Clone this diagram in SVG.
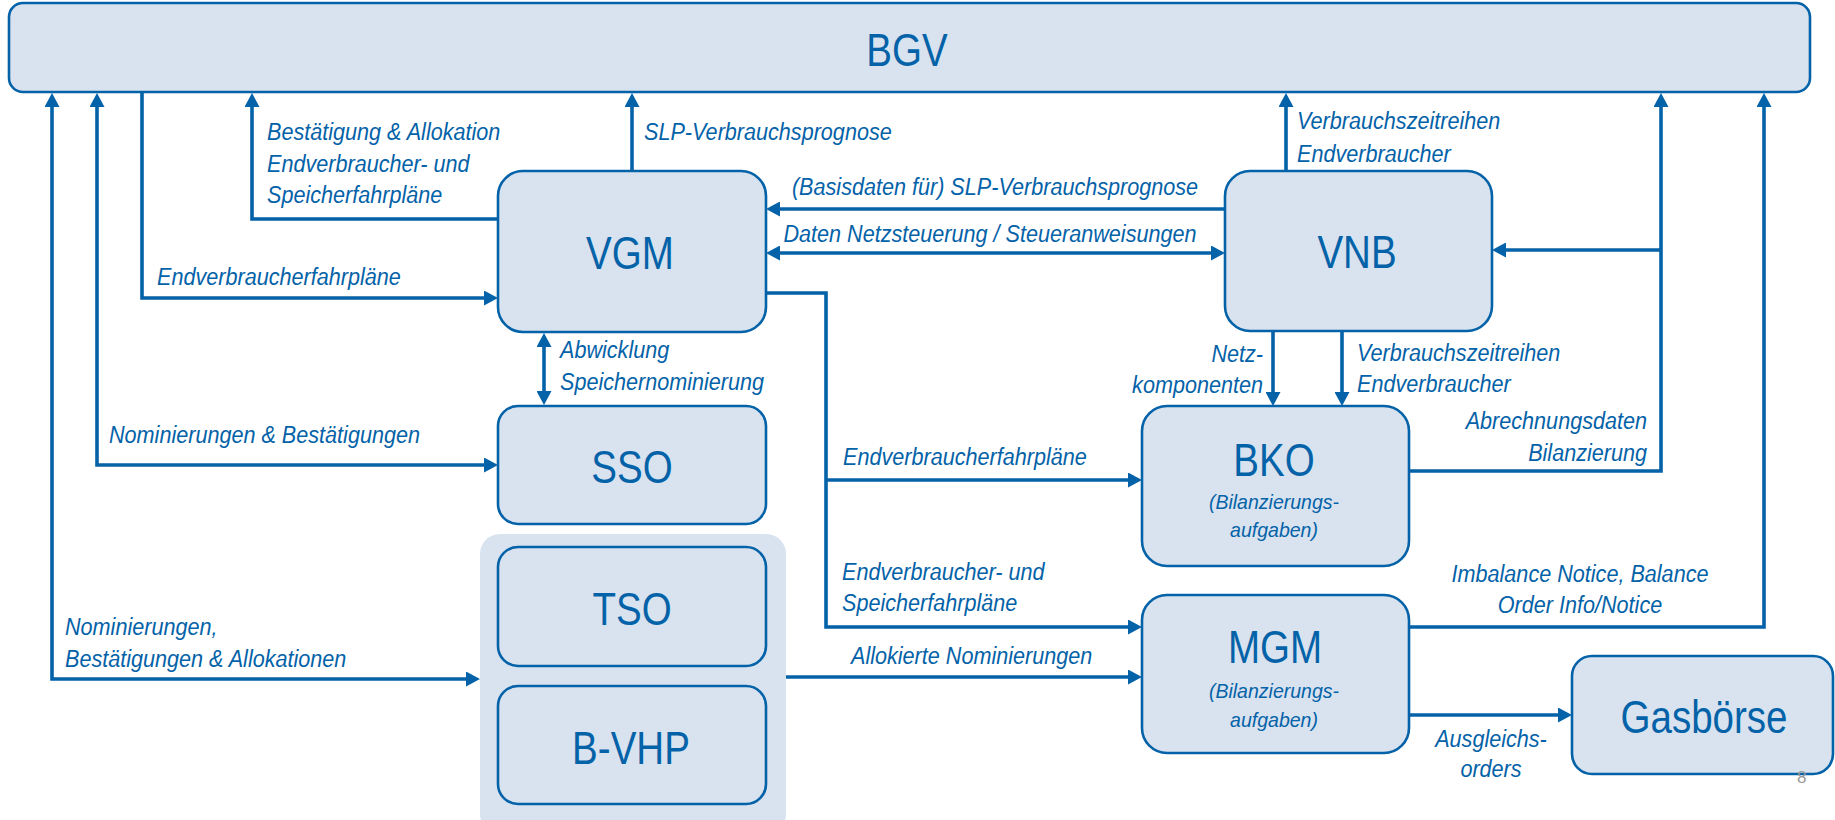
<svg xmlns="http://www.w3.org/2000/svg" width="1835" height="820" viewBox="0 0 1835 820">
<style>
.box{fill:#D9E3EF;stroke:#0462A8;stroke-width:2.6}
.grp{fill:#D9E3EF;stroke:none}
.big{font-family:"Liberation Sans",Arial,sans-serif;font-size:47px;fill:#0462A8;text-anchor:middle}
.lbl{font-family:"Liberation Sans",Arial,sans-serif;font-size:24px;font-style:italic;fill:#0462A8}
.sub{font-family:"Liberation Sans",Arial,sans-serif;font-size:21px;font-style:italic;fill:#0462A8;text-anchor:middle}
.mid{text-anchor:middle}
.end{text-anchor:end}
.con path{fill:none;stroke:#0462A8;stroke-width:3.6;stroke-linejoin:miter}
.pg{font-family:"Liberation Sans",Arial,sans-serif;font-size:17px;fill:#999999}
</style>
<defs>
<marker id="ah" markerUnits="userSpaceOnUse" markerWidth="14" markerHeight="15" refX="4" refY="7.5" orient="auto-start-reverse" viewBox="0 0 14 15">
<path d="M0,0 L14,7.5 L0,15 z" fill="#0462A8"/>
</marker>
</defs>

<g id="group-tso-bvhp"><rect class="grp" x="480" y="534" width="306" height="300" rx="20"/></g>

<g id="node-bgv"><rect class="box" x="9" y="3" width="1801" height="89" rx="14"/>
<text class="big" transform="translate(907 66) scale(0.82 1)">BGV</text></g>

<g id="node-vgm"><rect class="box" x="498" y="171" width="268" height="161" rx="25"/>
<text class="big" transform="translate(630 269) scale(0.82 1)">VGM</text></g>

<g id="node-vnb"><rect class="box" x="1225" y="171" width="267" height="160" rx="25"/>
<text class="big" transform="translate(1357 268) scale(0.82 1)">VNB</text></g>

<g id="node-sso"><rect class="box" x="498" y="406" width="268" height="118" rx="20"/>
<text class="big" transform="translate(632 483) scale(0.82 1)">SSO</text></g>

<g id="node-tso"><rect class="box" x="498" y="547" width="268" height="119" rx="20"/>
<text class="big" transform="translate(632 625) scale(0.82 1)">TSO</text></g>

<g id="node-bvhp"><rect class="box" x="498" y="686" width="268" height="118" rx="20"/>
<text class="big" transform="translate(631 764) scale(0.82 1)">B-VHP</text></g>

<g id="node-bko"><rect class="box" x="1142" y="406" width="267" height="160" rx="25"/>
<text class="big" transform="translate(1274 476) scale(0.82 1)">BKO</text>
<text class="sub" transform="translate(1274 509) scale(0.93 1)">(Bilanzierungs-</text>
<text class="sub" transform="translate(1274 537) scale(0.93 1)">aufgaben)</text></g>

<g id="node-mgm"><rect class="box" x="1142" y="595" width="267" height="158" rx="25"/>
<text class="big" transform="translate(1275 663) scale(0.82 1)">MGM</text>
<text class="sub" transform="translate(1274 698) scale(0.93 1)">(Bilanzierungs-</text>
<text class="sub" transform="translate(1274 727) scale(0.93 1)">aufgaben)</text></g>

<g id="node-gasboerse"><rect class="box" x="1572" y="656" width="261" height="118" rx="20"/>
<text class="big" transform="translate(1704 733) scale(0.82 1)">Gasbörse</text></g>

<g id="connectors" class="con">
<path d="M52,103 V679 H470" marker-start="url(#ah)" marker-end="url(#ah)"/>
<path d="M97,103 V465 H488" marker-start="url(#ah)" marker-end="url(#ah)"/>
<path d="M142,92 V298 H488" marker-end="url(#ah)"/>
<path d="M498,219 H252 V103" marker-end="url(#ah)"/>
<path d="M632,171 V103" marker-end="url(#ah)"/>
<path d="M1225,209 H776" marker-end="url(#ah)"/>
<path d="M776,253 H1215" marker-start="url(#ah)" marker-end="url(#ah)"/>
<path d="M1286,171 V103" marker-end="url(#ah)"/>
<path d="M544,343 V395" marker-start="url(#ah)" marker-end="url(#ah)"/>
<path d="M766,293 H826 V627 H1132" marker-end="url(#ah)"/>
<path d="M826,480 H1132" marker-end="url(#ah)"/>
<path d="M786,677 H1132" marker-end="url(#ah)"/>
<path d="M1273,331 V396" marker-end="url(#ah)"/>
<path d="M1342,331 V396" marker-end="url(#ah)"/>
<path d="M1409,471 H1661 V103" marker-end="url(#ah)"/>
<path d="M1661,250 H1502" marker-end="url(#ah)"/>
<path d="M1409,627 H1764 V103" marker-end="url(#ah)"/>
<path d="M1409,715 H1562" marker-end="url(#ah)"/>
</g>

<g id="labels">
<text class="lbl" transform="translate(267 140) scale(0.9 1)"><tspan x="0" y="0">Bestätigung &amp; Allokation</tspan><tspan x="0" y="32">Endverbraucher- und</tspan><tspan x="0" y="63">Speicherfahrpläne</tspan></text>
<text class="lbl" transform="translate(644 140) scale(0.9 1)">SLP-Verbrauchsprognose</text>
<text class="lbl" transform="translate(157 285) scale(0.9 1)">Endverbraucherfahrpläne</text>
<text class="lbl mid" transform="translate(995 195) scale(0.9 1)">(Basisdaten für) SLP-Verbrauchsprognose</text>
<text class="lbl mid" transform="translate(990 242) scale(0.9 1)">Daten Netzsteuerung / Steueranweisungen</text>
<text class="lbl" transform="translate(1297 129) scale(0.9 1)"><tspan x="0" y="0">Verbrauchszeitreihen</tspan><tspan x="0" y="33">Endverbraucher</tspan></text>
<text class="lbl" transform="translate(560 358) scale(0.9 1)"><tspan x="0" y="0">Abwicklung</tspan><tspan x="0" y="32">Speichernominierung</tspan></text>
<text class="lbl" transform="translate(109 443) scale(0.9 1)">Nominierungen &amp; Bestätigungen</text>
<text class="lbl" transform="translate(65 635) scale(0.9 1)"><tspan x="0" y="0">Nominierungen,</tspan><tspan x="0" y="32">Bestätigungen &amp; Allokationen</tspan></text>
<text class="lbl end" transform="translate(1263 362) scale(0.9 1)"><tspan x="0" y="0">Netz-</tspan><tspan x="0" y="31">komponenten</tspan></text>
<text class="lbl" transform="translate(1357 361) scale(0.9 1)"><tspan x="0" y="0">Verbrauchszeitreihen</tspan><tspan x="0" y="31">Endverbraucher</tspan></text>
<text class="lbl end" transform="translate(1647 429) scale(0.9 1)"><tspan x="0" y="0">Abrechnungsdaten</tspan><tspan x="0" y="32">Bilanzierung</tspan></text>
<text class="lbl" transform="translate(843 465) scale(0.9 1)">Endverbraucherfahrpläne</text>
<text class="lbl" transform="translate(842 580) scale(0.9 1)"><tspan x="0" y="0">Endverbraucher- und</tspan><tspan x="0" y="31">Speicherfahrpläne</tspan></text>
<text class="lbl" transform="translate(851 664) scale(0.9 1)">Allokierte Nominierungen</text>
<text class="lbl mid" transform="translate(1580 582) scale(0.9 1)"><tspan x="0" y="0">Imbalance Notice, Balance</tspan><tspan x="0" y="31">Order Info/Notice</tspan></text>
<text class="lbl mid" transform="translate(1491 747) scale(0.9 1)"><tspan x="0" y="0">Ausgleichs-</tspan><tspan x="0" y="30">orders</tspan></text>
<text class="pg" x="1797" y="783">8</text>
</g>
</svg>
